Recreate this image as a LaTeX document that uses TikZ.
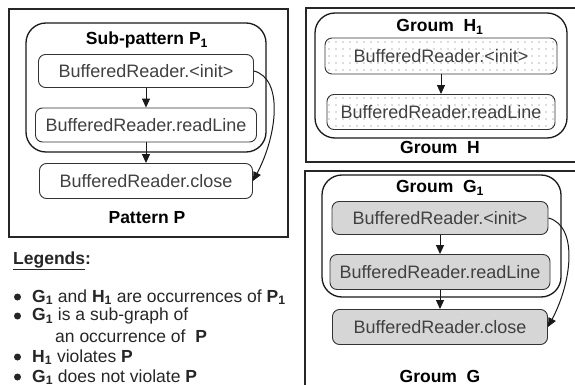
\documentclass[tikz,border=0pt]{standalone}
\usepackage{fontspec}
\setmainfont{Liberation Sans}
\usetikzlibrary{arrows.meta,patterns.meta}

\tikzset{
  frame/.style={draw=black!85, line width=1.2pt, inner sep=0pt},
  grp/.style={draw=black!90, line width=1.3pt, rounded corners=20pt, inner sep=0pt},
  op/.style={draw=black!80, line width=0.9pt, rounded corners=7pt, inner sep=0pt,
             text=black!75, font=\fontsize{18}{20}\selectfont},
  gop/.style={op, fill=black!16},
  hop/.style={op, pattern={Dots[distance=7pt,radius=0.6pt]}, pattern color=black!60},
  title/.style={font=\fontsize{17.5}{20}\selectfont\bfseries, inner sep=0pt},
  flow/.style={-{Triangle[length=9pt,width=8pt]}, line width=1pt, draw=black!90},
  legtext/.style={anchor=west, inner sep=0pt, text=black!85, font=\fontsize{17.5}{20}\selectfont},
  bullet/.style={circle, fill=black!85, inner sep=0pt, minimum size=7pt}
}

\begin{document}
\begin{tikzpicture}[x=1pt, y=-1pt]
\useasboundingbox (0,0) rectangle (575,385);

% ---------- Pattern P ----------
\node[frame, minimum width=279pt, minimum height=228pt] (frameP) at (148.5,123) {};
\node[grp, minimum width=240pt, minimum height=129pt] (subP) at (146,87.5) {};
\node[title] (tSubP) at (147,40) {Sub-pattern P\textsubscript{1}};
\node[op, minimum width=215pt, minimum height=33pt] (pInit) at (146,71) {BufferedReader.<init>};
\node[op, minimum width=221pt, minimum height=34pt] (pRead) at (146,125) {BufferedReader.readLine};
\node[op, minimum width=213pt, minimum height=35pt] (pClose) at (146,181) {BufferedReader.close};
\node[title] (tP) at (147,218) {Pattern P};
\draw[flow] (pInit) -- (pRead);
\draw[flow] (pRead) -- (pClose);
\draw[flow] (pInit.east) .. controls +(30,8) and +(24,-45) .. (pClose.east);

% ---------- Groum H ----------
\node[frame, minimum width=274pt, minimum height=154pt] (frameH) at (443,85) {};
\node[grp, minimum width=252pt, minimum height=125pt] (subH) at (441,75.5) {};
\node[title] (tSubH) at (440,27) {Groum\ \ H\textsubscript{1}};
\node[hop, minimum width=232pt, minimum height=36pt] (hInit) at (441,56) {BufferedReader.<init>};
\node[hop, minimum width=228pt, minimum height=35pt] (hRead) at (441,112) {BufferedReader.readLine};
\node[title] (tH) at (440,147) {Groum\ \ H};
\draw[flow] (hInit) -- (hRead);

% ---------- Groum G ----------
\node[frame, minimum width=275pt, minimum height=224pt] (frameG) at (442.5,283) {};
\node[grp, minimum width=239pt, minimum height=122pt] (subG) at (441.5,236) {};
\node[title] (tSubG) at (440,188) {Groum\ \ G\textsubscript{1}};
\node[gop, minimum width=216pt, minimum height=33pt] (gInit) at (440,218) {BufferedReader.<init>};
\node[gop, minimum width=220pt, minimum height=35pt] (gRead) at (440,272) {BufferedReader.readLine};
\node[gop, minimum width=215pt, minimum height=35pt] (gClose) at (440,327) {BufferedReader.close};
\node[title] (tG) at (440,376) {Groum\ \ G};
\draw[flow] (gInit) -- (gRead);
\draw[flow] (gRead) -- (gClose);
\draw[flow] (gInit.east) .. controls +(30,8) and +(24,-45) .. (gClose.east);

% ---------- Legends ----------
\node[legtext, font=\fontsize{17.5}{20}\selectfont\bfseries] (legHead) at (13,261) {\underline{Legends}:};
\node[bullet] (b1) at (17.5,297) {};
\node[legtext] (l1) at (32,297) {\textbf{G\textsubscript{1}} and \textbf{H\textsubscript{1}} are occurrences of \textbf{P\textsubscript{1}}};
\node[bullet] (b2) at (17.5,316) {};
\node[legtext] (l2) at (32,316) {\textbf{G\textsubscript{1}} is a sub-graph of};
\node[legtext] (l2b) at (55,336) {an occurrence of\ \ \textbf{P}};
\node[bullet] (b3) at (17.5,357) {};
\node[legtext] (l3) at (32,357) {\textbf{H\textsubscript{1}} violates \textbf{P}};
\node[bullet] (b4) at (17.5,377) {};
\node[legtext] (l4) at (32,377) {\textbf{G\textsubscript{1}} does not violate \textbf{P}};
\end{tikzpicture}
\end{document}
